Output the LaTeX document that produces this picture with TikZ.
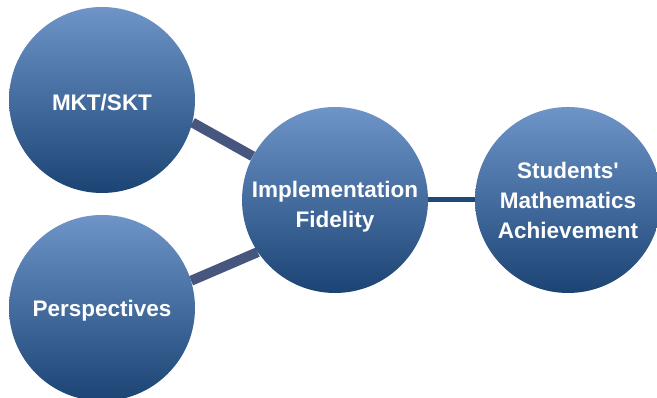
\documentclass[tikz,border=0pt]{standalone}
\usepackage{fontspec}
\setmainfont{Liberation Sans}
\usetikzlibrary{backgrounds}

\definecolor{ballTop}{RGB}{110,148,200}
\definecolor{ballBottom}{RGB}{27,68,116}
\definecolor{linkGrey}{RGB}{70,86,126}
\definecolor{linkNavy}{RGB}{30,72,122}

\tikzset{
    ball/.style={circle, minimum size=186pt, inner sep=0pt,
        top color=ballTop, bottom color=ballBottom},
    balltext/.style={text=white, align=center,
        font=\bfseries\fontsize{22.5}{30}\selectfont},
    thicklink/.style={linkGrey, line width=10pt},
    thinlink/.style={linkNavy, line width=5pt}
}

\begin{document}
\begin{tikzpicture}[x=1pt, y=1pt]
    \useasboundingbox (0,0) rectangle (657,398);

    \node[ball] (mkt)   at (102,298) {};
    \node[ball] (persp) at (102,90)  {};
    \node[ball] (impl)  at (335,198) {};
    \node[ball] (stud)  at (568,198) {};

    % labels, a little below the centres
    \node[balltext] (mkttext)   at ([yshift=-3pt]mkt.center)   {MKT/SKT};
    \node[balltext] (persptext) at ([yshift=-3pt]persp.center) {Perspectives};
    \node[balltext] (impltext)  at ([yshift=-7pt]impl.center)  {Implementation\\Fidelity};
    \node[balltext] (studtext)  at (stud.center) {Students\textquotesingle\\Mathematics\\Achievement};

    % links sit behind the circles
    \begin{scope}[on background layer]
        \draw[thicklink] (mkt.-14) -- (impl.152);
        \draw[thicklink] (persp.17) -- (impl.214);
        \draw[thinlink] (impl.east) -- (stud.west);
    \end{scope}
\end{tikzpicture}
\end{document}
